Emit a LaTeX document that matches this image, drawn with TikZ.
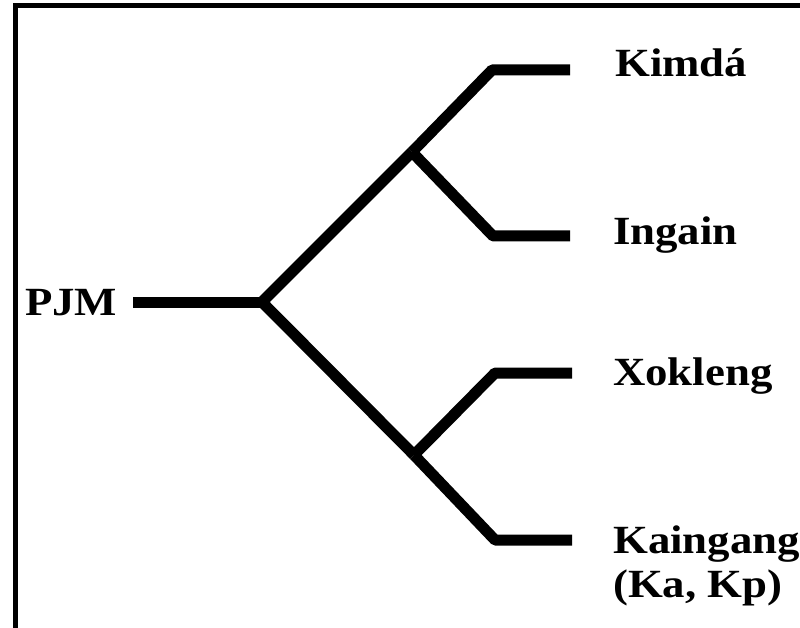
\documentclass[tikz,border=0pt]{standalone}
\usepackage{fontspec}
\setmainfont{Liberation Serif}
\tikzset{
  branch/.style={line width=11pt, line join=round},
  lang/.style={anchor=base west, inner sep=0pt, align=left,
    font=\fontsize{40}{44}\selectfont\bfseries},
}
\newcommand{\wide}[1]{\scalebox{1.12}[1]{#1}}
\begin{document}
\begin{tikzpicture}[x=1pt,y=-1pt]
    \useasboundingbox (0,0) rectangle (800,628);
    \clip (0,0) rectangle (800,628);
    \draw [line width=5pt] (15,6) rectangle (900,700);
      % inner points of the tree
      \coordinate (stub) at (133,302);
      \coordinate (root) at (262,302);
      \coordinate (up) at (412,152);
      \coordinate (low) at (414,455);
      % leaves: corner and end of each twig
      \coordinate (c1) at (492,70);  \coordinate (e1) at (570,70);
      \coordinate (c2) at (493,236); \coordinate (e2) at (570,236);
      \coordinate (c3) at (495,373); \coordinate (e3) at (572,373);
      \coordinate (c4) at (495,540); \coordinate (e4) at (572,540);
      \draw [branch] (stub) -- (root);
      \draw [branch] (up) -- (root) -- (low);
      \foreach \j/\n in {up/1,up/2,low/3,low/4}
        \draw [branch] (\j) -- (c\n) -- (e\n);
      \node [lang] (pjm) at (25,315) {\wide{PJM}};
      \node [lang] (kimda) at (615,77) {\wide{Kimdá}};
      \node [lang] (ingain) at (613,245) {\wide{Ingain}};
      \node [lang] (xokleng) at (613,385) {\wide{Xokleng}};
      % two lines: base is the lower one here
      \node [lang] (kaingang) at (613,597) {\wide{Kaingang}\\\wide{(Ka, Kp)}};
 \end{tikzpicture}
\end{document}
